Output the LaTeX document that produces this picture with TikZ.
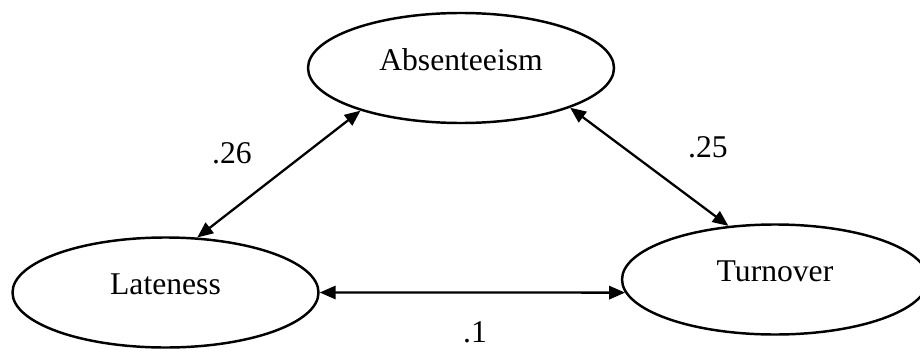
\documentclass[tikz,border=0pt]{standalone}
\usepackage{fontspec}
\setmainfont{Liberation Serif}
\usepackage{tikz}
\usetikzlibrary{arrows.meta,shapes.geometric}

\begin{document}
\begin{tikzpicture}[
  var/.style={ellipse,draw,line width=1.4pt,minimum width=6.12cm,minimum height=2.2cm,
    text depth=0.34cm,font=\fontsize{18}{21}\selectfont},
  cov/.style={<->,>={Triangle[length=9pt,width=7.5pt]},line width=1.3pt},
  coef/.style={font=\fontsize{18}{21}\selectfont}
]
\useasboundingbox (0,0) rectangle (18.4,-6.96);

% Latent variables.
\node[var] (abs) at (9.22,-1.36) {Absenteeism};
\node[var] (lat) at (3.31,-5.85) {Lateness};
\node[var] (tur) at (15.50,-5.59) {Turnover};

% Correlations.
\draw[cov] (lat.60) -- (abs.203);
\draw[cov] (abs.340) -- (tur.131);
\draw[cov] (lat.east) -- (tur.185);

\node[coef] (r26) at (4.64,-3.06) {.26};
\node[coef] (r25) at (14.16,-2.94) {.25};
\node[coef] (r10) at (9.50,-6.64) {.1};
\end{tikzpicture}
\end{document}
